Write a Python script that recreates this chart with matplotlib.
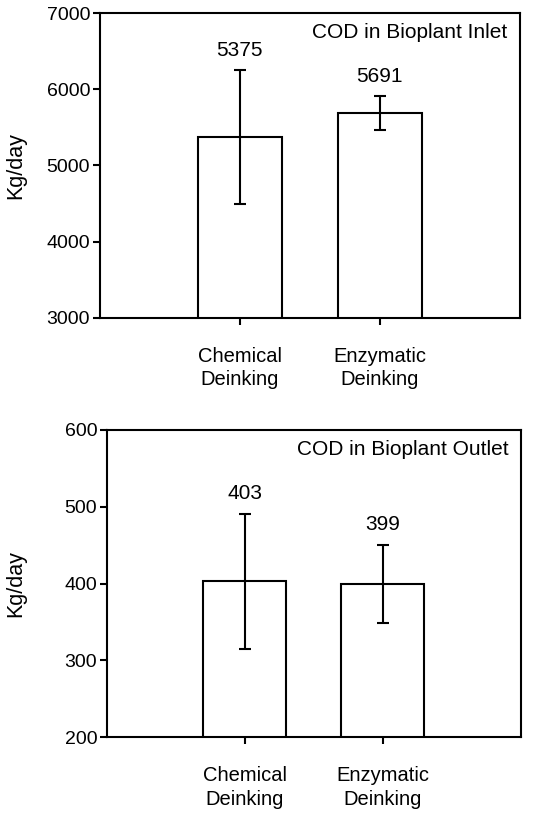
import numpy as np
import matplotlib
matplotlib.use("Agg")
import matplotlib.pyplot as plt

plt.rcParams['font.family'] = ['Liberation Sans', 'DejaVu Sans']

categories = ['Chemical\nDeinking', 'Enzymatic\nDeinking']
inlet_mean = [5375, 5691]
inlet_err = [880, 220]
outlet_mean = [403, 399]
outlet_err = [88, 51]

fig = plt.figure(figsize=(5.37, 8.19), dpi=100)
ax1 = fig.add_axes([0.186, 0.612, 0.782, 0.372])
ax2 = fig.add_axes([0.199, 0.100, 0.771, 0.375])


def panel(ax, means, errs, ylim, step, title, lab_off, ylab_x):
    x = np.arange(1, len(means) + 1)
    ax.bar(x, means, width=0.6, bottom=0, color='white', edgecolor='black',
           linewidth=1.5, zorder=2)
    ax.errorbar(x, means, yerr=errs, fmt='none', ecolor='black',
                elinewidth=1.5, capsize=4, capthick=1.5, zorder=3)
    for xi, m, e in zip(x, means, errs):
        ax.annotate(str(m), (xi, m + e), xytext=(0, lab_off), textcoords='offset points',
                    ha='center', va='bottom', fontsize=15)
    ax.set_xlim(0, 3)
    ax.set_ylim(*ylim)
    ax.set_yticks(np.arange(ylim[0], ylim[1] + 1, step))
    ax.set_xticks(x)
    ax.set_xticklabels(categories, fontsize=14.5, linespacing=1.3)
    ax.tick_params(axis='x', direction='out', length=5, width=1.5, pad=16)
    ax.tick_params(axis='y', direction='out', length=5, width=1.5, labelsize=14, pad=2)
    for s in ax.spines.values():
        s.set_linewidth(1.5)
    ax.set_ylabel('Kg/day', fontsize=15.5)
    ax.yaxis.set_label_coords(ylab_x, 0.5)
    ax.text(0.97, 0.935, title, transform=ax.transAxes, ha='right', va='center',
            fontsize=15)


panel(ax1, inlet_mean, inlet_err, (3000, 7000), 1000, 'COD in Bioplant Inlet', 7, -0.175)
panel(ax2, outlet_mean, outlet_err, (200, 600), 100, 'COD in Bioplant Outlet', 8, -0.195)

fig.savefig('out.png', dpi=100)
